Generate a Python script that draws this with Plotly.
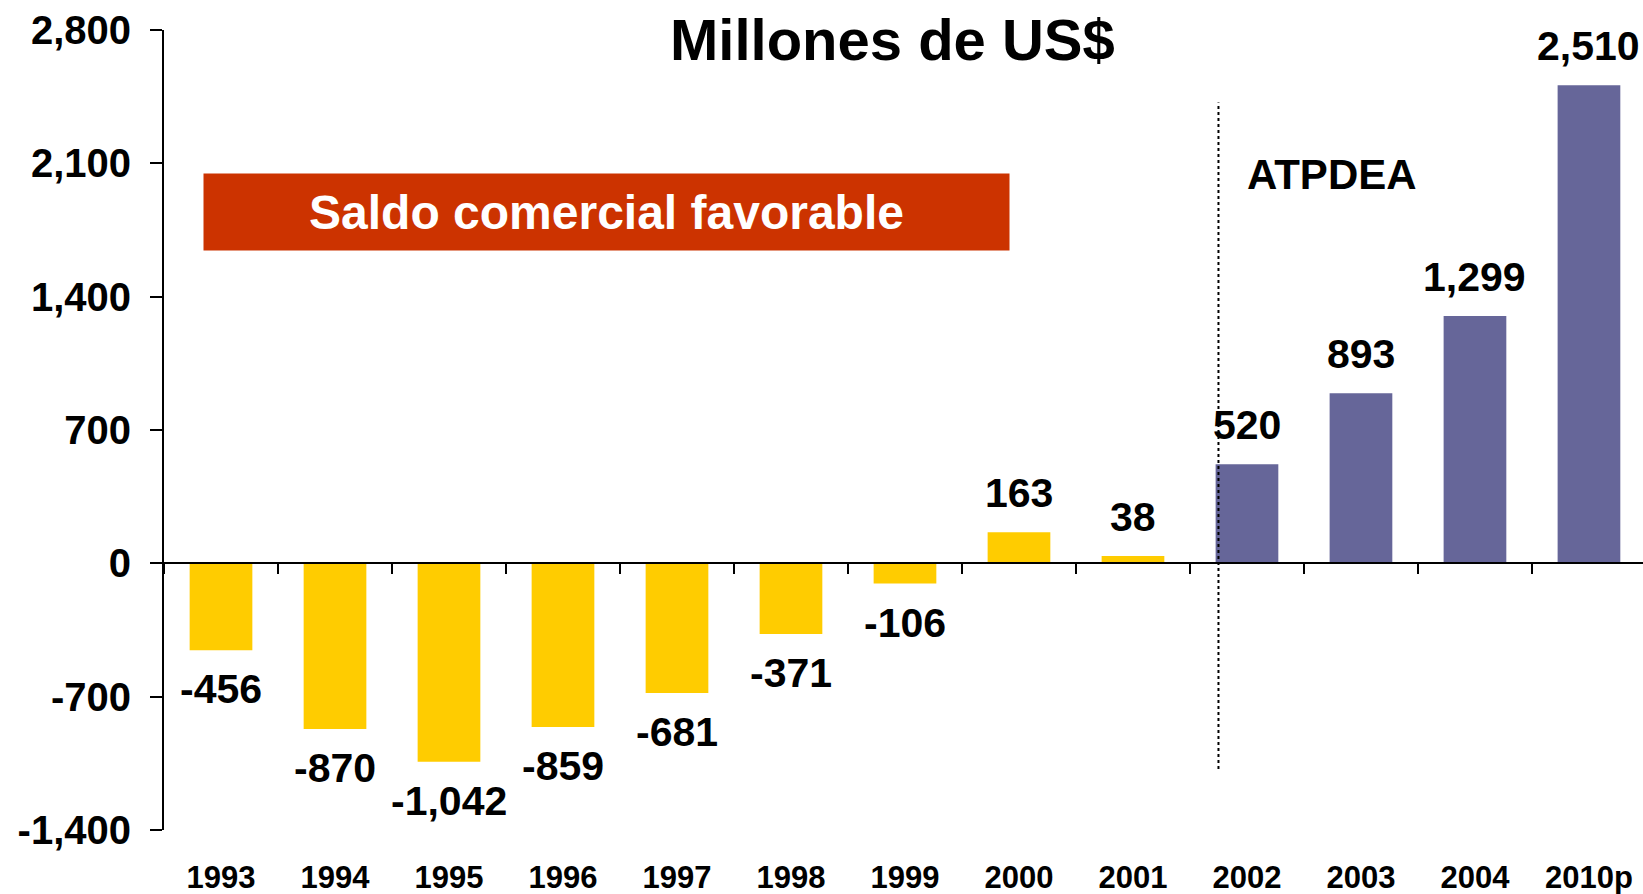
import plotly.graph_objects as go

# ---- data ----
categories = ["1993", "1994", "1995", "1996", "1997", "1998", "1999",
              "2000", "2001", "2002", "2003", "2004", "2010p"]
values = [-456, -870, -1042, -859, -681, -371, -106, 163, 38, 520, 893, 1299, 2510]
atpdea_start = "2002"
y_tick_vals = [-1400, -700, 0, 700, 1400, 2100, 2800]
y_tick_text = ["-1,400", "-700", "0", "700", "1,400", "2,100", "2,800"]

YELLOW = "#FFCC00"
PURPLE = "#666699"
RED = "#CC3300"
FONT = "Liberation Sans, Arial, sans-serif"

start_idx = categories.index(atpdea_start)
colors = [YELLOW if i < start_idx else PURPLE for i in range(len(categories))]

fig = go.Figure()
fig.add_trace(go.Bar(
    x=categories, y=values, marker=dict(color=colors, line=dict(width=0)),
    hoverinfo="skip", showlegend=False, xaxis="x", yaxis="y",
))
# invisible trace to carry the bottom label axis
fig.add_trace(go.Scatter(
    x=categories, y=values, mode="markers", marker=dict(opacity=0),
    hoverinfo="skip", showlegend=False, xaxis="x2", yaxis="y",
))

# value labels (x given as category index)
for i, v in enumerate(values):
    fig.add_annotation(
        x=i, y=v, xref="x", yref="y", text=f"{v:,}", showarrow=False,
        yanchor="middle", xanchor="center", yshift=39 if v >= 0 else -39,
        font=dict(family=FONT, size=41, color="black", weight="bold"),
    )

# title
fig.add_annotation(
    x=0.4929, y=0.9875, xref="paper", yref="paper", text="Millones de US$",
    showarrow=False, xanchor="center", yanchor="middle",
    font=dict(family=FONT, size=58, color="black", weight="bold"),
)
# ATPDEA label
fig.add_annotation(
    x=0.7897, y=0.82, xref="paper", yref="paper", text="ATPDEA",
    showarrow=False, xanchor="center", yanchor="middle",
    font=dict(family=FONT, size=42, color="black", weight="bold"),
)
# red box
fig.add_annotation(
    x=0.2995, y=0.7725, xref="paper", yref="paper", text="Saldo comercial favorable",
    showarrow=False, xanchor="center", yanchor="middle",
    width=805, height=76, bgcolor=RED, borderpad=0,
    font=dict(family=FONT, size=48, color="white", weight="bold"),
)

# dotted separator line
fig.add_shape(
    type="line", xref="x", yref="y",
    x0=start_idx - 0.25, x1=start_idx - 0.25, y0=-1080, y1=2420,
    line=dict(color="black", width=2, dash="dot"),
)

fig.update_layout(
    width=1643, height=894,
    margin=dict(l=164, r=0, t=30, b=64, autoexpand=False),
    paper_bgcolor="white", plot_bgcolor="white",
    bargap=0.45,
    xaxis=dict(
        type="category", categoryorder="array", categoryarray=categories,
        range=[-0.5, 12.474], anchor="free", position=1400 / 4200,
        showline=True, linecolor="black", linewidth=2,
        ticks="outside", tickson="boundaries", ticklen=10, tickwidth=2, tickcolor="black",
        showticklabels=False, showgrid=False, zeroline=False, automargin=False,
    ),
    xaxis2=dict(
        type="category", categoryorder="array", categoryarray=categories,
        overlaying="x", matches="x", anchor="y", side="bottom",
        showline=False, ticks="", showgrid=False, zeroline=False,
        showticklabels=True, ticklabelstandoff=26, automargin=False,
        tickfont=dict(family=FONT, size=31, color="black", weight="bold"),
    ),
    yaxis=dict(
        range=[-1400, 2800], tickvals=y_tick_vals, ticktext=y_tick_text,
        showline=True, linecolor="black", linewidth=2,
        ticks="outside", ticklen=12, tickwidth=2, tickcolor="black",
        showgrid=False, zeroline=False, ticklabelstandoff=11, automargin=False,
        tickfont=dict(family=FONT, size=40, color="black", weight="bold"),
    ),
)

fig.write_html(
    "out.html",
    config={"displayModeBar": False},
    post_script="document.body.style.margin='0px';document.body.style.padding='0px';"
                "document.body.style.overflow='hidden';",
)
